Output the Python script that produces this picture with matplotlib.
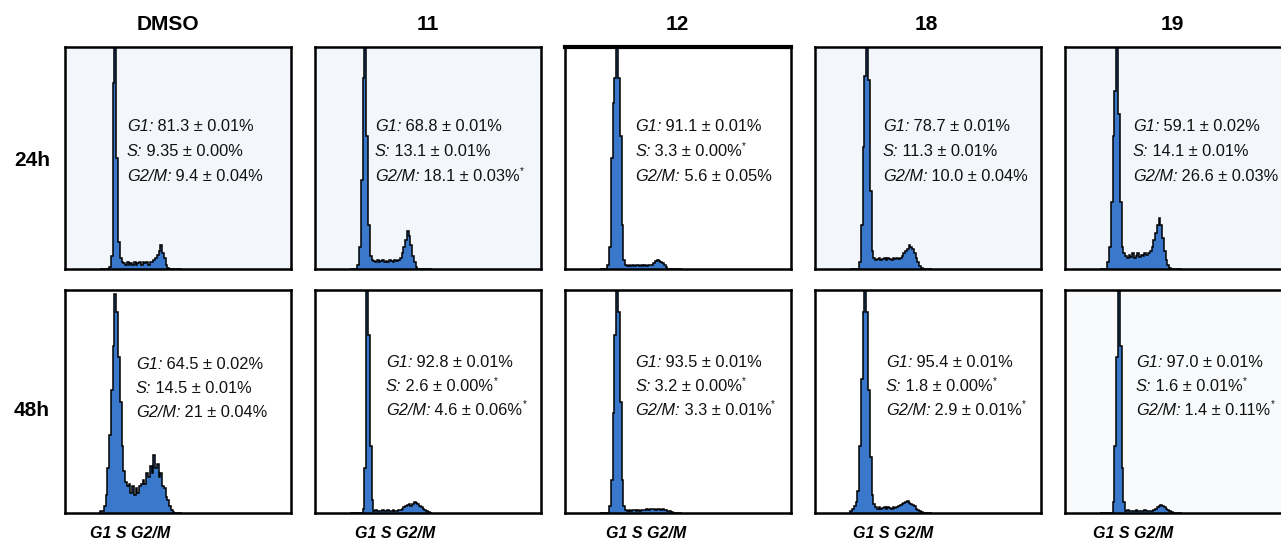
import numpy as np
import matplotlib
matplotlib.use("Agg")
import matplotlib.pyplot as plt

plt.rcParams['font.family'] = ['Liberation Sans', 'DejaVu Sans']

# ---------------- data ----------------
compounds = ["DMSO", "11", "12", "18", "19"]
timepoints = ["24h", "48h"]

# histogram bins: channel 40..132, width 2 (DNA content axis 0..256)
CH_START = 40
BIN_W = 2
N_BINS = 46

dmso_24 = [0, 0, 0, 0, 0,
           0.01, 0.06, 0.84, 1.3, 0.5, 0.12, 0.05,
           0.03, 0.025, 0.02, 0.03, 0.02, 0.025, 0.02, 0.03, 0.02, 0.025, 0.03, 0.02, 0.03, 0.025, 0.03, 0.02, 0.03,
           0.03, 0.04, 0.05, 0.065, 0.08, 0.11, 0.07, 0.05, 0.02, 0.005,
           0, 0, 0, 0, 0, 0, 0]
c11_24 = [0, 0, 0, 0,
          0.02, 0.1, 0.4, 0.86, 1.3, 0.6, 0.2, 0.06,
          0.04, 0.035, 0.03, 0.04, 0.03, 0.035, 0.04, 0.03, 0.035, 0.03, 0.04, 0.035, 0.03, 0.04, 0.035, 0.04,
          0.05, 0.07, 0.1, 0.13, 0.17, 0.15, 0.11, 0.06, 0.03, 0.01,
          0, 0, 0, 0, 0, 0, 0, 0]
c12_24 = [0, 0, 0, 0,
          0.02, 0.1, 0.5, 0.75, 0.86, 1.3, 0.86, 0.6, 0.2, 0.04,
          0.02, 0.015, 0.02, 0.015, 0.02, 0.015, 0.02, 0.02, 0.015, 0.02, 0.015, 0.02, 0.015, 0.02, 0.02, 0.02,
          0.025, 0.035, 0.04, 0.035, 0.03, 0.025, 0.02, 0.01,
          0, 0, 0, 0, 0, 0, 0, 0]
c18_24 = [0, 0, 0, 0, 0,
          0.03, 0.2, 0.55, 0.87, 1.3, 0.85, 0.35, 0.08,
          0.05, 0.04, 0.045, 0.05, 0.04, 0.045, 0.05, 0.04, 0.05, 0.045, 0.04, 0.05, 0.045, 0.05, 0.045,
          0.05, 0.06, 0.07, 0.08, 0.09, 0.11, 0.1, 0.09, 0.07, 0.05, 0.03, 0.015, 0.005,
          0, 0, 0, 0, 0]
c19_24 = [0, 0, 0, 0,
          0.03, 0.1, 0.3, 0.6, 0.8, 1.3, 0.7, 0.3, 0.1,
          0.07, 0.06, 0.05, 0.065, 0.055, 0.07, 0.05, 0.06, 0.07, 0.055, 0.065, 0.06, 0.07, 0.065,
          0.07, 0.08, 0.1, 0.13, 0.16, 0.2, 0.23, 0.2, 0.14, 0.08, 0.04, 0.02, 0.005,
          0, 0, 0, 0, 0, 0]
dmso_48 = [0.01, 0.01, 0.03, 0.08, 0.2, 0.35, 0.55, 0.75, 0.98, 0.9, 0.7, 0.5, 0.3, 0.19,
           0.14, 0.12, 0.13, 0.09, 0.12, 0.08, 0.11, 0.09, 0.12, 0.13, 0.15, 0.13, 0.18, 0.16,
           0.21, 0.18, 0.26, 0.2, 0.22, 0.16, 0.18, 0.12, 0.11, 0.07, 0.06, 0.03, 0.015, 0.005,
           0, 0, 0, 0]
c11_48 = [0, 0, 0, 0, 0, 0, 0,
          0.02, 0.2, 1.3, 0.8, 0.3, 0.06,
          0.01, 0.012, 0.01, 0.008, 0.01, 0.012, 0.01, 0.01, 0.012, 0.01, 0.01, 0.012, 0.01, 0.01, 0.012, 0.015,
          0.02, 0.025, 0.03, 0.035, 0.04, 0.03, 0.04, 0.05, 0.045, 0.04, 0.03, 0.025, 0.02, 0.015, 0.01, 0.005,
          0]
c12_48 = [0, 0, 0, 0, 0,
          0.03, 0.15, 0.45, 0.8, 1.3, 0.9, 0.5, 0.15, 0.03,
          0.012, 0.01, 0.015, 0.01, 0.012, 0.015, 0.01, 0.012, 0.01, 0.015, 0.012, 0.015, 0.018, 0.015,
          0.02, 0.018, 0.02, 0.015, 0.02, 0.018, 0.015, 0.02, 0.015, 0.012, 0.01, 0.008, 0.005,
          0, 0, 0, 0, 0]
c18_48 = [0.01, 0.02, 0.03, 0.05, 0.1, 0.3, 0.6, 0.9, 1.3, 0.9, 0.55, 0.25, 0.08, 0.04,
          0.025, 0.02, 0.025, 0.02, 0.022, 0.025, 0.02, 0.025, 0.022, 0.02, 0.025, 0.022, 0.025,
          0.03, 0.035, 0.04, 0.045, 0.05, 0.055, 0.045, 0.04, 0.035, 0.03, 0.02, 0.015, 0.01, 0.005,
          0, 0, 0, 0, 0]
c19_48 = [0, 0, 0, 0, 0, 0, 0,
          0.05, 0.3, 0.7, 1.3, 0.75, 0.2, 0.05,
          0.01, 0.012, 0.01, 0.008, 0.01, 0.01, 0.012, 0.01, 0.008, 0.01, 0.01, 0.012, 0.01, 0.01, 0.008, 0.01,
          0.015, 0.02, 0.025, 0.03, 0.035, 0.03, 0.025, 0.02, 0.015, 0.01, 0.005,
          0, 0, 0, 0, 0]

histograms = [[dmso_24, c11_24, c12_24, c18_24, c19_24],
              [dmso_48, c11_48, c12_48, c18_48, c19_48]]

# phase percentages (value, sd, significant)
g1_vals = [["81.3", "68.8", "91.1", "78.7", "59.1"],
           ["64.5", "92.8", "93.5", "95.4", "97.0"]]
g1_sd = [["0.01", "0.01", "0.01", "0.01", "0.02"],
         ["0.02", "0.01", "0.01", "0.01", "0.01"]]
g1_sig = [[False] * 5, [False] * 5]
s_vals = [["9.35", "13.1", "3.3", "11.3", "14.1"],
          ["14.5", "2.6", "3.2", "1.8", "1.6"]]
s_sd = [["0.00", "0.01", "0.00", "0.01", "0.01"],
        ["0.01", "0.00", "0.00", "0.00", "0.01"]]
s_sig = [[False, False, True, False, False],
         [False, True, True, True, True]]
g2_vals = [["9.4", "18.1", "5.6", "10.0", "26.6"],
           ["21", "4.6", "3.3", "2.9", "1.4"]]
g2_sd = [["0.04", "0.03", "0.05", "0.04", "0.03"],
         ["0.04", "0.06", "0.01", "0.01", "0.11"]]
g2_sig = [[False, True, False, False, False],
          [False, True, True, True, True]]

phase_axis_label = "G1 S G2/M"

# ---------------- layout ----------------
W, H = 1281, 542
fig = plt.figure(figsize=(W / 100, H / 100), dpi=100)

col_left = [65, 315, 565, 815, 1065]
panel_w = 226
row_top = [47, 290]
row_h = [222, 223]
text_x = [[0.274, 0.265, 0.31, 0.30, 0.30],
          [0.314, 0.314, 0.31, 0.314, 0.314]]
text_y0 = [[0.64, 0.64, 0.64, 0.64, 0.64],
           [0.665, 0.675, 0.675, 0.675, 0.675]]
line_step = [0.112, 0.107]
bottom_lbl_x = [90, 355, 606, 853, 1093]

BLUE = '#3a78cc'
faces = [['#f3f7fb', '#f3f7fb', '#ffffff', '#f3f7fb', '#f3f7fb'],
         ['#ffffff', '#ffffff', '#ffffff', '#ffffff', '#f8fafc']]

edges = CH_START + BIN_W * np.arange(N_BINS + 1)
FS = 11.8

for r in range(2):
    for c in range(5):
        l = col_left[c] / W
        b = 1 - (row_top[r] + row_h[r]) / H
        ax = fig.add_axes([l, b, panel_w / W, row_h[r] / H])
        ax.set_facecolor(faces[r][c])
        vals = np.array(histograms[r][c], dtype=float)
        ax.stairs(vals, edges, fill=True, color=BLUE, lw=0)
        ax.stairs(vals, edges, color='black', lw=1.1)
        ax.set_xlim(0, 256)
        ax.set_ylim(0, 1)
        ax.set_xticks([])
        ax.set_yticks([])
        for sp in ax.spines.values():
            sp.set_linewidth(1.8)
            sp.set_color('black')
        if r == 0 and c == 2:
            ax.spines['top'].set_linewidth(3)

        lines = [("G1:", g1_vals[r][c], g1_sd[r][c], g1_sig[r][c]),
                 ("S:", s_vals[r][c], s_sd[r][c], s_sig[r][c]),
                 ("G2/M:", g2_vals[r][c], g2_sd[r][c], g2_sig[r][c])]
        for k, (lab, v, sd, sig) in enumerate(lines):
            y = text_y0[r][c] - k * line_step[r]
            t1 = ax.text(text_x[r][c], y, lab, transform=ax.transAxes,
                         fontsize=FS, style='italic', va='center', ha='left',
                         color='#111111')
            t2 = ax.annotate(f" {v} \u00b1 {sd}%", xy=(1, 0), xycoords=t1,
                             fontsize=FS, va='bottom', ha='left', color='#111111',
                             annotation_clip=False)
            if sig:
                ax.annotate("*", xy=(1, 0.55), xycoords=t2, fontsize=7,
                            va='bottom', ha='left', color='#111111',
                            annotation_clip=False)
        if r == 1:
            fig.text(bottom_lbl_x[c] / W, 1 - 533 / H, phase_axis_label,
                     fontsize=11.5, fontweight='bold', style='italic',
                     ha='left', va='center')

# column titles
title_x = [168, 428, 677, 926, 1172]
for c, name in enumerate(compounds):
    fig.text(title_x[c] / W, 1 - 25 / H, name, fontsize=15, fontweight='bold',
             ha='center', va='center')

# row labels
row_y = [160, 410]
for r, tp in enumerate(timepoints):
    fig.text(32 / W, 1 - row_y[r] / H, tp, fontsize=15, fontweight='bold',
             ha='center', va='center')

fig.savefig("out.png", dpi=100, facecolor='white')
